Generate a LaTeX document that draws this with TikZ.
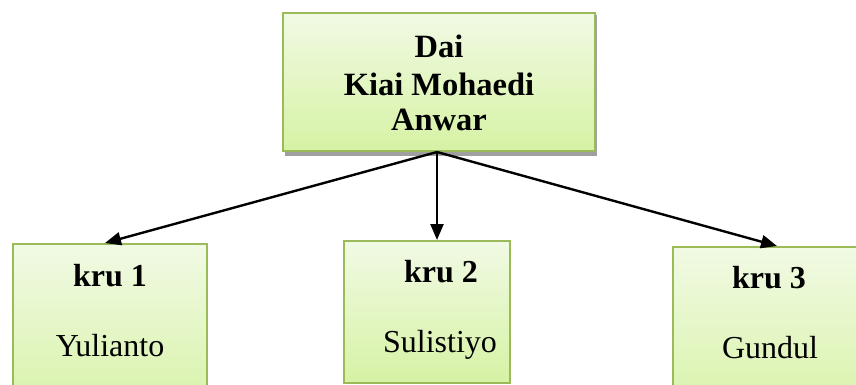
\documentclass[tikz,border=0pt]{standalone}
\usepackage{fontspec}
\setmainfont{Liberation Serif}
\usetikzlibrary{arrows.meta}
\definecolor{boxline}{HTML}{9BBB59}
\definecolor{boxtop}{HTML}{F1FAE4}
\definecolor{boxbot}{HTML}{D6F2A4}
\definecolor{shadowgray}{HTML}{A0A0A0}
\tikzset{
  orgbox/.style={draw=boxline, line width=2pt, top color=boxtop, bottom color=boxbot,
    rectangle, inner sep=0pt},
  headtext/.style={font=\bfseries\fontsize{32.5}{36}\selectfont, anchor=base, inner sep=0pt},
  roletext/.style={font=\bfseries\fontsize{32}{36}\selectfont, anchor=base, inner sep=0pt},
  nametext/.style={font=\fontsize{32}{36}\selectfont, anchor=base, inner sep=0pt},
  link/.style={line width=2.4pt, -{Triangle[length=16pt,width=13pt]}}
}
\begin{document}
\begin{tikzpicture}[x=1pt,y=1pt]
  \useasboundingbox (0,0) rectangle (856,384);
  \begin{scope}
    \clip (0,0) rectangle (856,384);
    % drop shadow under the head box
    \fill[shadowgray] (285,228) rectangle (597,369);
    % head box
    \node[orgbox, minimum width=312pt, minimum height=138pt] (head) at (439,302) {};
    % member boxes (run past the lower edge)
    \node[orgbox, minimum width=194pt, minimum height=180pt] (b1) at (110,50) {};
    \node[orgbox, minimum width=166pt, minimum height=142pt] (b2) at (427,72) {};
    \node[orgbox, minimum width=194pt, minimum height=180pt] (b3) at (770,47) {};
  \end{scope}
  % head text
  \node[headtext] (h1) at (439,327) {Dai};
  \node[headtext] (h2) at (439,289) {Kiai Mohaedi};
  \node[headtext] (h3) at (439,254) {Anwar};
  % member texts
  \node[roletext] (r1) at (110,98) {kru 1};
  \node[nametext] (n1) at (110,28) {Yulianto};
  \node[roletext] (r2) at (441,102) {kru 2};
  \node[nametext] (n2) at (440,32) {Sulistiyo};
  \node[roletext] (r3) at (769,96) {kru 3};
  \node[nametext] (n3) at (770,26) {Gundul};
  % connectors
  \coordinate (fork) at ([xshift=-2pt]head.south);
  \draw[link] (fork) -- ([xshift=-5pt]b1.north);
  \draw[link] (fork) -- ([xshift=10pt]b2.north);
  \draw[link] (fork) -- ([xshift=7pt]b3.north);
\end{tikzpicture}
\end{document}
